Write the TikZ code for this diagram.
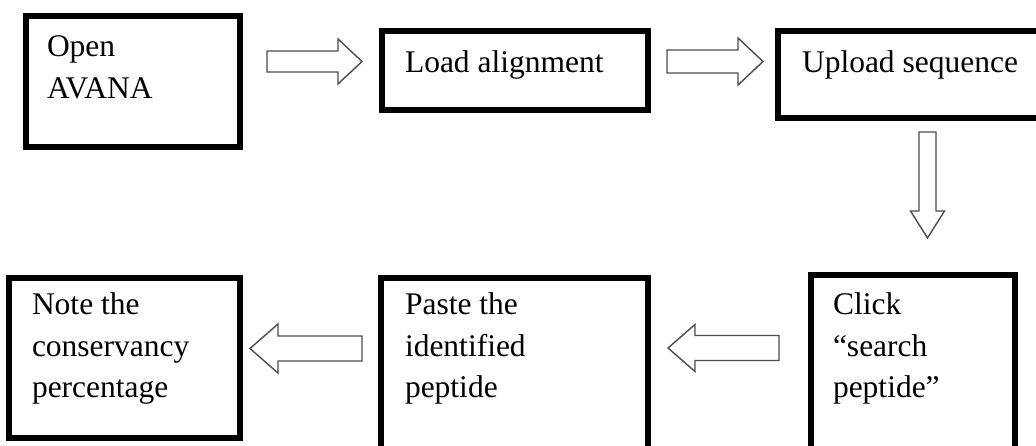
\documentclass[tikz,border=0pt]{standalone}
\usepackage{fontspec}
\setmainfont{Liberation Serif}
\usetikzlibrary{calc}

\tikzset{
  stepbox/.style={rectangle, draw=black, line width=6.5pt, inner sep=0pt, outer sep=0pt},
  steptext/.style={anchor=base west, inner sep=0pt, outer sep=0pt,
                   font=\fontsize{31.5pt}{41.5pt}\selectfont},
  blockarrow/.style={draw=black!70, line width=1.4pt, fill=white, line join=miter},
}

% Hollow block arrow from #1 (tail centre) to #2 (tip):
% #3 half shaft width, #4 half head width, #5 head length
\newcommand\fatarrow[5]{%
  \draw[blockarrow] let \p1=(#1), \p2=(#2),
      \n1={veclen(\x2-\x1,\y2-\y1)}, \n2={atan2(\y2-\y1,\x2-\x1)} in
    [shift={(\p1)}, rotate=\n2]
    (0,-#3) -- ({\n1-#5},-#3) -- ({\n1-#5},-#4) -- (\n1,0)
    -- ({\n1-#5},#4) -- ({\n1-#5},#3) -- (0,#3) -- cycle;}

\begin{document}
\begin{tikzpicture}[x=1pt,y=1pt]
\useasboundingbox (0,0) rectangle (1036,-446);
\clip (0,0) rectangle (1036,-446);

% top row
\node[stepbox, minimum width=214pt, minimum height=131pt] (b1) at (133,-81.5) {};
\node[stepbox, minimum width=266pt, minimum height=79pt]  (b2) at (515,-70.5) {};
\node[stepbox, minimum width=272pt, minimum height=87pt]  (b3) at (914,-74.5) {};

% bottom row
\node[stepbox, minimum width=204pt, minimum height=185pt] (b4) at (913,-367.5) {};
\node[stepbox, minimum width=267pt, minimum height=183pt] (b5) at (514.5,-369.5) {};
\node[stepbox, minimum width=231pt, minimum height=160pt] (b6) at (124.5,-358) {};

% step texts
\node[steptext] (t1) at ($(b1.north west)+(21,-41)$) {\vtop{\hbox{Open}\hbox{AVANA}}};
\node[steptext] (t2) at ($(b2.north west)+(23,-42)$) {Load alignment};
\node[steptext] (t3) at ($(b3.north west)+(24,-42)$) {Upload sequence};
\node[steptext] (t4) at ($(b4.north west)+(22,-40)$) {\vtop{\hbox{Click}\hbox{“search}\hbox{peptide”}}};
\node[steptext] (t5) at ($(b5.north west)+(24,-37)$) {\vtop{\hbox{Paste the}\hbox{identified}\hbox{peptide}}};
\node[steptext] (t6) at ($(b6.north west)+(23,-37)$) {\vtop{\hbox{Note the}\hbox{conservancy}\hbox{percentage}}};

% arrow ends
\coordinate (a1s) at (267,-61.5);   \coordinate (a1e) at (362,-61.5);
\coordinate (a2s) at (667,-61.5);   \coordinate (a2e) at (763,-61.5);
\coordinate (a3s) at (927.5,-132);  \coordinate (a3e) at (927.5,-238);
\coordinate (a4s) at (779,-348);    \coordinate (a4e) at (668,-348);
\coordinate (a5s) at (362,-348.5);  \coordinate (a5e) at (250,-348.5);

\fatarrow{a1s}{a1e}{10.5}{22.5}{24}
\fatarrow{a2s}{a2e}{11.5}{23.5}{25}
\fatarrow{a3s}{a3e}{8.5}{17}{27}
\fatarrow{a4s}{a4e}{12.5}{23.5}{27}
\fatarrow{a5s}{a5e}{12.5}{24.5}{28}
\end{tikzpicture}
\end{document}
